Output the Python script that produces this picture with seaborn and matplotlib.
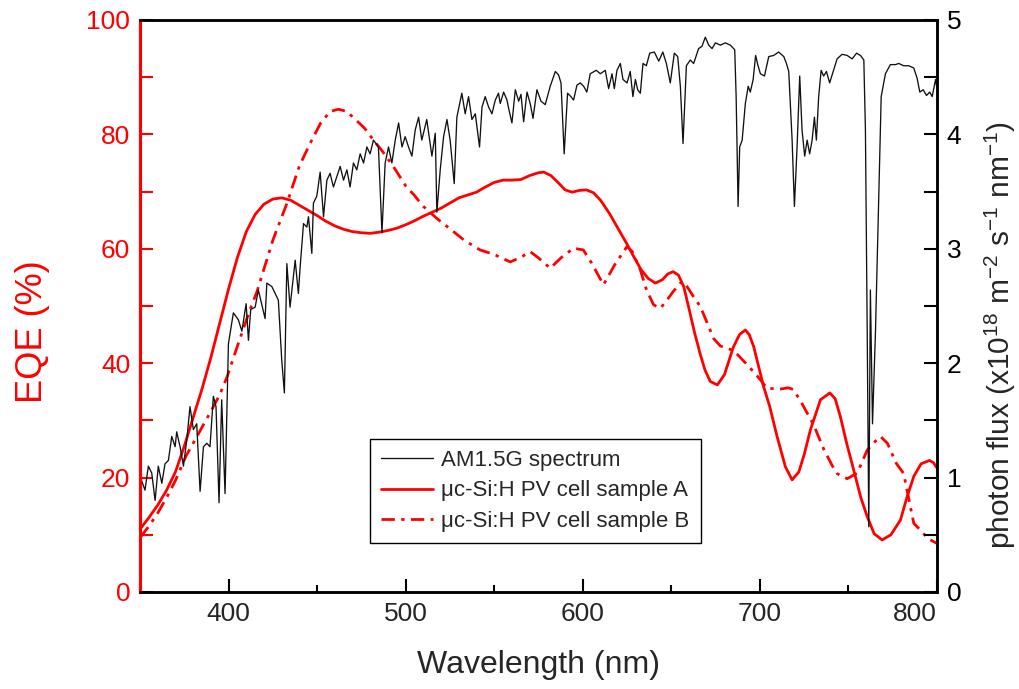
import matplotlib
matplotlib.use("Agg")
import matplotlib.pyplot as plt
import seaborn as sns
import pandas as pd
from matplotlib.ticker import MultipleLocator

# ---------------- data ----------------
spec_wl = [350, 352.8, 354.7, 356.6, 358.5, 360.3, 362.3, 364.1, 366, 367.9,
           369.8, 370.7, 372.6, 374.5, 376.4, 378.2, 380.1, 382, 383.9, 385.8,
           387.7, 389.5, 391.4, 392.9, 394.6, 396.1, 398, 399.9, 402.7, 405.5,
           407.5, 409.9, 411.2, 412.5, 415, 416.8, 418.8, 420.6, 421.6, 424.4,
           426.3, 428.1, 430, 431.5, 432.9, 434.7, 437.6, 439.4,
           440.4, 442.3, 444.2, 445.1, 447, 447.9, 449.8, 451.7, 453.6, 455.5,
           457.3, 459.2, 461.1, 463, 464.9, 466.8, 468.6, 470.5, 472.4, 474.3,
           476.2, 478.1, 479.9, 481.8, 484.6, 486.6, 488.4, 490.3, 492.2, 494.1,
           496, 497.9, 499.7, 501.6, 503.5, 505.4, 507.3, 509.1, 511.9, 514.8,
           516.7, 517.6, 519.5, 521.4, 523.3, 525.1, 527.4, 528.9, 531.7, 533.6,
           535.5, 537.4, 539.3, 541.7, 543.1, 544.9, 546.8, 548.7, 550.6, 552.4,
           553.4, 555.3, 557.2, 558.1, 560, 561.9, 563.8, 565.1, 566.6, 568.5,
           570.3, 571.9, 574.1, 576.4, 578.8, 581.6, 584.5, 586.3, 587.7, 589.5,
           591.4, 593.3, 594.8, 596.7, 598.6, 600.5, 602.3, 604.2, 607.6, 609.9,
           612.7, 614.6, 616.5, 617.8, 619.3, 621.2, 622.7, 625, 626.8, 628.3,
           629.7, 631, 632.5, 634, 635.9, 637.8, 640.4, 642.9, 645.2, 647.2,
           649.4, 651.7, 653.6, 655.1, 656.6, 658.5, 660.7, 662.6, 665.4, 667.3,
           669.2, 671.1, 673, 674.9, 677.7, 680.5, 683.3, 685.8, 686.6, 687.7,
           688.6, 690, 691.8, 693.4, 694.6, 696.2, 697.6, 698.8, 700.3, 702.6,
           705, 707.8, 710.6, 713.5, 715, 716.3, 718.2, 719.5, 721, 722.5,
           723.8, 725.3, 726.7, 728.1, 729.5, 730.8, 731.9, 733.2, 734.6, 736,
           737.6, 739.4, 741.4, 743.6, 746.4, 749.3, 752.1, 754.6, 756.8, 758.7,
           759.6, 760.6, 761.5, 762.4, 763.6, 765.3, 767.1, 768.5, 770.9, 773.7,
           776.6, 778.4, 781.2, 784.1, 786.9, 788.8, 790.3, 792.2, 794.1, 795.9,
           797.3, 799.2, 800]
spec_flux = [1.01, 0.89, 1.10, 1.04, 0.80, 1.10, 0.95, 1.12, 1.15, 1.36,
             1.27, 1.40, 1.27, 1.10, 1.33, 1.62, 1.42, 1.47, 0.88, 1.27,
             1.30, 1.27, 1.71, 1.62, 0.78, 1.68, 0.86, 2.17, 2.44, 2.38,
             2.28, 2.52, 2.20, 2.47, 2.49, 2.64, 2.51, 2.39, 2.70, 2.67,
             2.61, 2.55, 2.03, 1.74, 2.87, 2.49, 2.90, 2.61,
             2.84, 3.22, 3.19, 3.28, 2.96, 3.40, 3.46, 3.67, 3.28, 3.60,
             3.66, 3.54, 3.63, 3.72, 3.60, 3.69, 3.54, 3.75, 3.69, 3.83,
             3.75, 3.89, 3.83, 3.95, 3.89, 3.14, 3.75, 3.89, 3.75, 3.95,
             4.10, 3.89, 3.98, 3.89, 3.81, 4.04, 4.15, 3.95, 4.13, 3.81,
             4.01, 3.32, 3.69, 3.98, 4.13, 3.95, 3.57, 4.15, 4.36, 4.18,
             4.33, 4.13, 4.18, 3.89, 4.24, 4.33, 4.24, 4.18, 4.30, 4.36,
             4.27, 4.37, 4.30, 4.23, 4.10, 4.39, 4.29, 4.35, 4.11, 4.37,
             4.27, 4.14, 4.39, 4.29, 4.26, 4.42, 4.55, 4.52, 4.45, 3.83,
             4.36, 4.33, 4.30, 4.43, 4.45, 4.42, 4.37, 4.53, 4.56, 4.53,
             4.56, 4.40, 4.53, 4.40, 4.56, 4.62, 4.48, 4.45, 4.55, 4.33,
             4.48, 4.39, 4.36, 4.62, 4.60, 4.71, 4.72, 4.64, 4.72, 4.62,
             4.45, 4.71, 4.68, 4.42, 3.92, 4.60, 4.65, 4.62, 4.75, 4.77,
             4.85, 4.78, 4.75, 4.80, 4.78, 4.80, 4.78, 4.74, 4.33, 3.37,
             3.89, 3.95, 4.27, 4.42, 4.37, 4.48, 4.69, 4.61, 4.53, 4.51,
             4.68, 4.69, 4.72, 4.68, 4.62, 4.55, 3.95, 3.37, 3.89, 4.51,
             4.04, 3.81, 3.95, 3.83, 3.95, 4.15, 3.95, 4.33, 4.56, 4.51,
             4.55, 4.45, 4.55, 4.66, 4.70, 4.69, 4.66, 4.71, 4.69, 4.65,
             4.04, 2.29, 0.57, 2.64, 1.47, 2.29, 3.46, 4.33, 4.53, 4.61,
             4.61, 4.62, 4.60, 4.60, 4.58, 4.49, 4.37, 4.39, 4.34, 4.37,
             4.33, 4.48, 4.40]

eqe_a_wl = [350, 355, 360, 365, 370, 375, 380, 385, 390, 395, 400, 405, 410,
            415, 420, 425, 430, 435, 440, 445, 450, 455, 460, 465, 470, 475,
            480, 485, 490, 495, 500, 505, 510, 515, 520, 525, 530, 535, 540,
            545, 550, 555, 560, 565, 570, 575, 578, 582, 586, 590, 594, 598,
            602, 606, 610, 615, 620, 625, 629, 633, 637, 641, 645, 648, 651,
            654, 657, 660, 663, 666.4, 669, 672, 676, 680, 685, 688.5, 691.8,
            694, 696.5, 699, 702, 705.5, 709.7, 714.4, 718.2, 722, 725, 728.5,
            734.2, 739.5, 742.5, 745.5, 749, 753, 757, 760.6, 764.5, 769, 774,
            779.4, 783, 786.9, 791, 795.8, 798, 800]
eqe_a = [11.0, 13.0, 15.2, 17.8, 21.0, 25.5, 30.5, 35.5, 41.0, 47.0, 53.0,
         58.5, 63.0, 66.0, 67.8, 68.7, 68.9, 68.5, 67.6, 66.7, 65.8, 64.8,
         64.0, 63.4, 63.0, 62.8, 62.7, 62.9, 63.2, 63.6, 64.2, 64.9, 65.7,
         66.4, 67.1, 68.0, 68.9, 69.4, 69.9, 70.8, 71.6, 72.0, 72.0, 72.1,
         72.8, 73.3, 73.4, 72.8, 71.6, 70.3, 69.9, 70.2, 70.3, 69.8, 68.5,
         66.2, 63.5, 60.8, 58.5, 56.3, 54.8, 54.0, 54.6, 55.6, 56.0, 55.4,
         53.4, 49.5, 45.5, 41.5, 38.8, 36.8, 36.2, 38.0, 42.8, 45.0, 45.8,
         45.0, 42.9, 39.8, 36.0, 32.5, 27.2, 21.9, 19.6, 21.0, 24.0, 28.3,
         33.6, 34.8, 33.8, 30.6, 26.0, 21.3, 16.5, 13.2, 10.2, 9.1, 10.0,
         12.6, 16.5, 20.2, 22.4, 23.0, 22.6, 21.7]

eqe_b_wl = [350, 355, 360, 365, 370, 376, 380, 385, 389.5, 395, 399, 405, 412,
            416, 420, 425, 433, 440, 446, 452, 457.3, 462, 466.8, 472, 477,
            481.8, 487, 493, 500, 505, 510, 517.6, 525, 533, 542, 550, 559,
            565, 570.3, 575, 581.6, 588, 594.8, 600.3, 605, 611.7, 618, 625,
            628, 632.5, 636, 640, 643.8, 647, 651, 655.1, 657, 662.6, 666.4,
            673.9, 677.7, 685.2, 692, 697, 700.3, 704, 712, 716, 719, 724,
            730.4, 736, 741, 743.6, 749.3, 755, 760.6, 764, 768.1, 772, 777,
            781.2, 786.9, 790.7, 795, 800]
eqe_b = [9.5, 11.5, 13.8, 16.5, 19.5, 23.8, 26.0, 28.8, 31.3, 34.5, 37.5,
         43.0, 49.3, 52.5, 56.5, 61.5, 68.0, 74.5, 78.4, 82.0, 84.0, 84.4,
         84.0, 82.5, 81.0, 79.0, 77.0, 74.4, 71.0, 69.3, 67.4, 65.3, 63.5,
         61.5, 59.8, 59.0, 57.7, 58.5, 59.5, 58.4, 56.6, 58.5, 60.1, 59.8,
         57.5, 53.7, 57.2, 60.4, 59.5, 56.3, 52.8, 50.2, 49.6, 50.8, 52.5,
         54.0, 54.3, 51.6, 49.9, 44.3, 43.0, 42.2, 40.0, 38.3, 37.1, 35.6,
         35.5, 35.7, 35.4, 32.8, 29.2, 25.0, 22.0, 20.7, 19.8, 20.8, 24.8,
         26.0, 27.2, 26.0, 22.5, 20.7, 12.0, 10.8, 9.3, 8.5]

x_ticks = [400, 500, 600, 700, 800]
label_spec = "AM1.5G spectrum"
label_a = "\u03bcc-Si:H PV cell sample A"
label_b = "\u03bcc-Si:H PV cell sample B"

assert len(spec_wl) == len(spec_flux)
assert len(eqe_a_wl) == len(eqe_a)
assert len(eqe_b_wl) == len(eqe_b)

df_spec = pd.DataFrame({"wl": spec_wl, "flux": spec_flux})
df_a = pd.DataFrame({"wl": eqe_a_wl, "eqe": eqe_a})
df_b = pd.DataFrame({"wl": eqe_b_wl, "eqe": eqe_b})

# ---------------- style ----------------
sns.set_style("white")
plt.rcParams["font.family"] = ["Liberation Sans", "DejaVu Sans"]
plt.rcParams["mathtext.fontset"] = "custom"
plt.rcParams["mathtext.rm"] = "Liberation Sans"
plt.rcParams["mathtext.it"] = "Liberation Sans:italic"
plt.rcParams["mathtext.bf"] = "Liberation Sans:bold"

fig = plt.figure(figsize=(10.2, 6.89), dpi=100)
ax = fig.add_axes([0.1373, 0.1408, 0.7813, 0.8302])
ax2 = ax.twinx()

sns.lineplot(data=df_a, x="wl", y="eqe", ax=ax, color="#ff0000", lw=2.0,
             estimator=None, sort=False, legend=False)
sns.lineplot(data=df_b, x="wl", y="eqe", ax=ax, color="#ff0000", lw=2.0,
             estimator=None, sort=False, legend=False)
ax.lines[1].set_linestyle((0, (4.8, 2.3, 1.2, 2.3)))
sns.lineplot(data=df_spec, x="wl", y="flux", ax=ax2, color="#111111", lw=0.95,
             estimator=None, sort=False, legend=False)

ax.set_xlim(350, 800)
ax.set_ylim(0, 100)
ax2.set_ylim(0, 5)

ax.set_xticks(x_ticks)
ax.set_xticklabels([str(t) for t in x_ticks])
ax.get_xticklabels()[-1].set_horizontalalignment("right")
ax.xaxis.set_minor_locator(MultipleLocator(50))
ax.yaxis.set_major_locator(MultipleLocator(20))
ax.yaxis.set_minor_locator(MultipleLocator(10))
ax2.yaxis.set_major_locator(MultipleLocator(1))
ax2.yaxis.set_minor_locator(MultipleLocator(0.5))

ax.tick_params(axis="x", which="major", direction="in", length=9.5, width=1.5,
               labelsize=19, pad=7, bottom=True, top=False, color="black")
ax.tick_params(axis="x", which="minor", direction="in", length=5, width=1.5,
               bottom=True, top=False, color="black")
ax.tick_params(axis="y", which="both", direction="in", length=9.5, width=1.5,
               color="#ff0000", labelcolor="#ff0000", labelsize=19, pad=7,
               left=True, right=False)
ax2.tick_params(axis="y", which="both", direction="in", length=9.5, width=1.5,
                color="black", labelcolor="black", labelsize=19, pad=7,
                right=True, left=False)

for a in (ax, ax2):
    for s in a.spines.values():
        s.set_linewidth(1.8)
        s.set_color("black")
    a.spines["left"].set_color("#ff0000")
    a.spines["left"].set_linewidth(2.2)

ax.set_xlabel("Wavelength (nm)", fontsize=23)
ax.xaxis.set_label_coords(0.5, -0.101)
ax.set_ylabel("EQE (%)", fontsize=26, color="#ff0000")
ax.yaxis.set_label_coords(-0.113, 0.455)
ax2.set_ylabel(r"photon flux (x10$^{18}$ m$^{-2}$ s$^{-1}$ nm$^{-1}$)",
               fontsize=21.5)
ax2.yaxis.set_label_coords(1.058, 0.449)

handles = [ax2.lines[0], ax.lines[0], ax.lines[1]]
leg = ax2.legend(handles, [label_spec, label_a, label_b], loc="lower left",
                 bbox_to_anchor=(0.289, 0.086), borderaxespad=0, fontsize=16,
                 frameon=True, fancybox=False, edgecolor="black", framealpha=1,
                 handlelength=2.3, handletextpad=0.4, labelspacing=0.42,
                 borderpad=0.5)
leg.get_frame().set_linewidth(1.0)

fig.savefig("out.png", dpi=100)
